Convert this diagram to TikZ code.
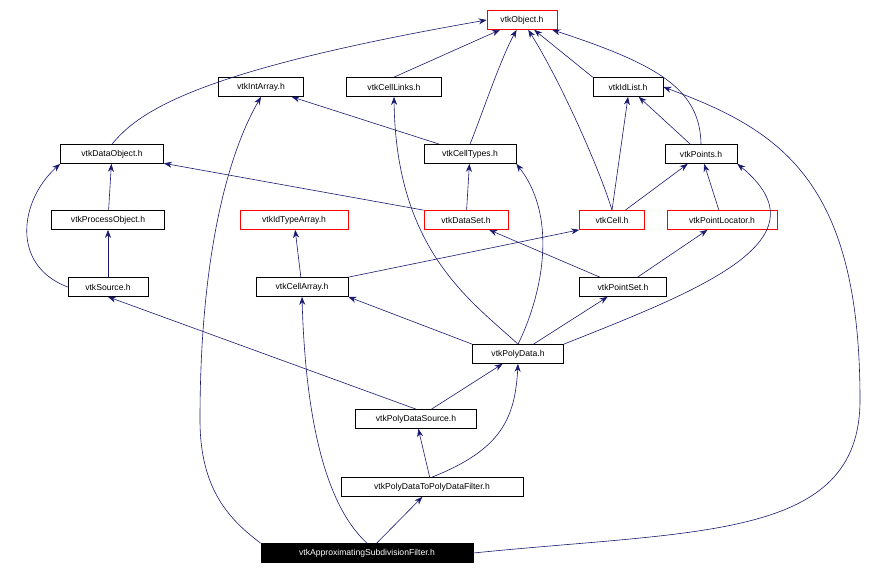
\documentclass[tikz,border=0pt]{standalone}
\usepackage{fontspec}
\setmainfont{Liberation Sans}
\usetikzlibrary{arrows.meta}
\definecolor{edge}{HTML}{191970}
\tikzset{
 hdr/.style={draw=black,fill=white,minimum height=19pt,inner sep=2pt,font=\fontsize{8.6}{10}\selectfont,line width=0.7pt},
 redhdr/.style={hdr,draw=red},
 mainhdr/.style={hdr,fill=black,text=white},
 dep/.style={draw=edge,line width=0.6pt,-{Stealth[length=8pt,width=6pt]}},
}
\begin{document}
\begin{tikzpicture}[x=1pt,y=-1pt]
\useasboundingbox (0,0) rectangle (880,576);
\node[redhdr,minimum width=70pt] (obj) at (522,20) {vtkObject.h};
\node[hdr,minimum width=85pt] (int) at (261,87) {vtkIntArray.h};
\node[hdr,minimum width=95pt] (links) at (394,87) {vtkCellLinks.h};
\node[hdr,minimum width=70pt] (idl) at (628,87) {vtkIdList.h};
\node[hdr,minimum width=103pt] (dobj) at (112,154) {vtkDataObject.h};
\node[hdr,minimum width=92pt] (ctypes) at (470,154) {vtkCellTypes.h};
\node[hdr,minimum width=72pt] (pts) at (701,154) {vtkPoints.h};
\node[hdr,minimum width=113pt] (pobj) at (108,220) {vtkProcessObject.h};
\node[redhdr,minimum width=108pt] (idt) at (294,220) {vtkIdTypeArray.h};
\node[redhdr,minimum width=84pt] (dset) at (466,220) {vtkDataSet.h};
\node[redhdr,minimum width=65pt] (cell) at (612,220) {vtkCell.h};
\node[redhdr,minimum width=110pt] (ploc) at (722,220) {vtkPointLocator.h};
\node[hdr,minimum width=80pt] (src) at (108,287) {vtkSource.h};
\node[hdr,minimum width=92pt] (carr) at (302,287) {vtkCellArray.h};
\node[hdr,minimum width=87pt] (pset) at (623,287) {vtkPointSet.h};
\node[hdr,minimum width=91pt] (pd) at (518,354) {vtkPolyData.h};
\node[hdr,minimum width=121pt] (pds) at (416,419) {vtkPolyDataSource.h};
\node[hdr,minimum width=182pt] (filt) at (432,487) {vtkPolyDataToPolyDataFilter.h};
\node[mainhdr,minimum width=212pt] (app) at (367,553) {vtkApproximatingSubdivisionFilter.h};

\draw[dep] (dobj.north) .. controls (140,110) and (200,70) .. (obj.west);
\draw[dep] (links.north) -- (obj);
\draw[dep] (ctypes.north) .. controls (480,120) and (500,60) .. (obj);
\draw[dep] (cell.north) .. controls (600,170) and (560,80) .. (obj);
\draw[dep] (idl.north west) -- (obj);
\draw[dep] (pts.north) .. controls (700,90) and (660,65) .. (obj);
\draw[dep] (pts) -- (idl);
\draw[dep] (cell.north) -- (idl.south);
\draw[dep] (cell) -- (pts);
\draw[dep] (ploc) -- (pts);
\draw[dep] (ctypes) -- (int);
\draw[dep] (dset) -- (ctypes);
\draw[dep] (dset.north west) -- (dobj);
\draw[dep] (pobj) -- (dobj);
\draw[dep] (src) -- (pobj);
\draw[dep] (src.west) .. controls (10,265) and (20,200) .. (dobj.south west);
\draw[dep] (carr) -- (idt);
\draw[dep] (carr.north east) -- (cell.south west);
\draw[dep] (pset) -- (dset);
\draw[dep] (pset) -- (ploc);
\draw[dep] (pd.north west) -- (carr.south east);
\draw[dep] (pd) -- (pset);
\draw[dep] (pd.north) .. controls (470,300) and (396,250) .. (links.south);
\draw[dep] (pd.north) .. controls (540,300) and (560,220) .. (ctypes.south east);
\draw[dep] (pd.north east) .. controls (700,290) and (830,240) .. (pts.south east);
\draw[dep] (pds) -- (pd);
\draw[dep] (pds.north) -- (src.south);
\draw[dep] (filt) -- (pds);
\draw[dep] (filt.north) .. controls (500,450) and (515,420) .. (pd.south);
\draw[dep] (app) -- (filt);
\draw[dep] (app.north) .. controls (320,500) and (305,400) .. (carr.south);
\draw[dep] (app.north west) .. controls (230,520) and (200,490) .. (200,420) .. controls (200,250) and (230,150) .. (int.south);
\draw[dep] (app.east) .. controls (700,530) and (860,540) .. (860,400) .. controls (860,180) and (780,130) .. (idl.east);
\end{tikzpicture}
\end{document}
